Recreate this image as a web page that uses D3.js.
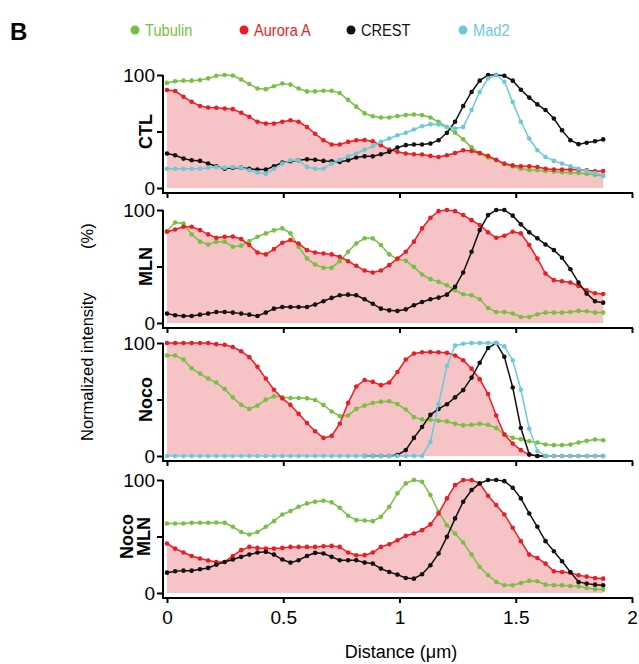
<!DOCTYPE html>
<html><head><meta charset="utf-8">
<script src="https://cdn.jsdelivr.net/npm/d3@7"></script>
<style>body{margin:0;background:#fff;}svg{font-family:"Liberation Sans",Arial,sans-serif;}</style>
</head><body><svg id="c" width="639" height="664"></svg>
<script>
const distance=[0,0.035,0.071,0.106,0.142,0.177,0.212,0.248,0.283,0.319,0.354,0.389,0.425,0.460,0.496,0.531,0.566,0.602,0.637,0.673,0.708,0.743,0.779,0.814,0.850,0.885,0.920,0.956,0.991,1.027,1.062,1.097,1.133,1.168,1.204,1.239,1.274,1.310,1.345,1.381,1.416,1.451,1.487,1.522,1.558,1.593,1.628,1.664,1.699,1.735,1.770,1.805,1.841,1.876];
const seriesNames=["Tubulin","Aurora A","CREST","Mad2"];
const panelLabels=[["CTL"],["MLN"],["Noco"],["Noco","MLN"]];
const xTicks=[0,0.5,1,1.5,2];
const yTicks=[0,50,100];

// CTL
const ctlTubulin=[93,94.5,95,95,95.5,97,99.4,100,99.5,96,92,88,87.5,90,92.5,91.5,88,85.5,85.5,86,86,84,78,72,66,63.5,62.4,62.4,63.6,64.5,65,64.5,62.4,58.6,54,49,43,36,30.5,27,24.6,21,19,17,16,15.7,15,14.5,14,13.6,13.3,12.7,11.8,11];
const ctlAurora=[86.7,85.8,80.8,76.3,72.5,71.3,71,70.4,69.8,66.6,63,58.6,57,57,58.6,60,58.6,54,48,42.3,38.5,38.5,40.8,42.3,42.5,41.4,37.9,34,32,30.5,29.9,29.6,28.4,27.5,29,31,33.4,32.8,31,28.4,25,21.6,20,19.2,19.2,18.6,17,16.3,16.3,16.3,16.3,15.7,14.8,15];
const ctlCrest=[30.5,29,26,24.6,24,21.6,19.2,17,18,18,17,16.3,16.3,19.2,22.5,23.7,24.6,25.4,25,24,23.7,23,24.6,27,28,28,29.9,32,35.8,37.9,38.5,38.5,39.3,42.3,48.8,58.6,72.5,85,95,100,100,99.4,95,87,80,74,69,61.5,51,42.3,38.8,40,41.4,43];
const ctlMad2=[17,17,17,17,17,18,18.6,18,18.6,18,15.7,13.6,12.7,17,21.6,24.6,24.6,18.6,17,17,21.6,25,28,30.5,34,37,40.8,43.8,46.7,48.8,51.8,54.7,56.5,56.2,54,52.7,54,69,85,97,100,94,76,58.6,43.8,33.4,27.5,24,21.6,19.2,17,15,13.3,10.4];
// MLN
const mlnTubulin=[81.4,89,88,78.4,72,69.5,72,72,67.5,68.3,72.5,76.3,79.3,82,83.7,79.3,67.5,57,51.8,48.8,48.8,54.7,63,70.4,74.9,74.9,69,60.7,56.5,55,49.7,42.9,38.8,36.4,33.4,29,25.4,24.6,21,13.3,9.8,9.8,8.3,5.3,5.3,7.7,9.2,9.2,9.2,9.8,10.7,10.4,9.2,9.2];
const mlnAurora=[80.8,82.8,85.2,85.2,82.2,78.4,75.4,76.3,76.6,74.3,69,62.4,60.7,65.4,71,73.4,70.4,64.5,62.4,61.5,60.7,58.6,54.7,50.6,46.4,44.7,46.4,51.2,57,63,72,83.7,93.2,99,100,99,95.5,91,86.7,80.2,75.4,77.2,80.8,79.3,69,57,43.8,37.9,37,35.8,32.8,29,26.3,25.7];
const mlnCrest=[8.3,6.8,6.2,6.2,7.4,8.3,9.8,9.8,9.2,8.3,7.4,6.2,9.2,12.7,14.2,14.2,14.2,14.2,16.3,19.2,22.2,24.6,25.1,24.6,21,17,12.7,11.2,10.7,12.1,15.7,18.6,21,22.5,25.1,32,44.7,63,82.2,95.5,100,100,95,87.3,80.2,74.9,69.5,64.5,57.7,47.6,35.8,26,19.2,18];
// Noco
const nocoTubulin=[88.9,88.9,85.4,77.6,72.9,68.5,65,59.2,51.9,45.2,41.7,44.6,49.9,52.8,51.9,51.3,51.3,51,49.6,45.2,39.4,35.3,35.9,41.7,44.6,46.9,48.1,48.4,46,41.1,34.4,32.4,32.1,31.2,30.6,28.6,27.1,27.7,28.6,27.7,24.8,19,16,14.9,13.1,12,10.2,9.6,9.6,10.2,12,13.4,14.6,14];
const nocoAurora=[100,100,100,100,100,100,99,98.5,96.5,92.7,87.5,79,68.5,58.6,51,45.2,37.3,29.2,21.9,16,17.8,28.6,47,61.5,67.3,65.6,62.7,65,74.3,85.4,90.7,91.8,92.1,91.8,91.3,88.9,84.8,77.3,68,54.8,35.9,19,11,5.2,1,0,0,0,0,0,0,0,0,0];
const nocoCrest=[null,null,null,null,null,null,null,null,null,null,null,null,null,null,null,null,null,null,null,null,null,null,null,null,0,0,0,0,0.9,5.2,16,25.7,36.4,41.7,45.8,51.9,58.3,69.4,82.5,95.6,100,87.8,60.6,24.8,1.5,0,0,null,null,null,null,null,null,null];
const nocoMad2=[0,0,0,0,0,0,0,0,0,0,0,0,0,0,0,0,0,0,0,0,0,0,0,0,0,0,0,0,0,0,0,0,12.5,46,79.6,97.7,99.4,100,100,100,100,97,84.8,58.6,24.2,4.4,0,0,0,0,0,0,0,0];
// Noco MLN
const nocoMlnTubulin=[61.5,61.5,61.5,62.1,62.1,62.1,62.4,62.1,58.6,54,51.8,54,58.6,63.6,69.5,72.5,76.3,79.3,80.8,81.7,80.2,75.4,68.3,64.5,64.2,63.6,67.5,76.3,88.2,97,100,98.5,86.7,71.9,60,52.7,44.7,34,23,15.7,9.8,6.8,6.8,8.9,10.7,10.4,7.4,6.8,6.8,6.2,5.9,4.4,3.3,3];
const nocoMlnAurora=[43.8,39.3,35.8,32.8,30.5,28.7,27.5,27.5,32.8,37.9,40.8,39.9,39.3,39.3,39.9,40.8,40.8,40.8,40.8,41.4,41.7,40.8,35.8,33.4,33.5,35.8,40.8,43.2,46.7,50.6,52.7,55.6,60.7,70.4,83.7,95.5,100,100,97,86.1,77.8,69.5,57.7,45.9,34,31,26,19.2,18.6,18,15.7,14.5,13.3,12.7];
const nocoMlnCrest=[18,19.2,19.8,19.8,21,22.2,25.1,27.5,29.6,32,34,35.8,36.4,34,29.6,26.9,29,32.8,35.5,34.9,32,29,29,29,26.9,26,21.6,18.6,16.3,13.3,12.7,16.6,24.6,34.9,49.7,66,80.8,91.1,97,100,100,99,93.2,83.7,70.4,58.6,45.9,37,28.1,18.6,9.8,8.3,7.4,6.8];

const colors={"Tubulin":"#79bf43","Aurora A":"#ec1c24","CREST":"#111111","Mad2":"#6bcad8"};
const fillColor="#f6c3c6";

const panels=[
  {label:panelLabels[0],data:{"Tubulin":ctlTubulin,"Aurora A":ctlAurora,"CREST":ctlCrest,"Mad2":ctlMad2}},
  {label:panelLabels[1],data:{"Tubulin":mlnTubulin,"Aurora A":mlnAurora,"CREST":mlnCrest}},
  {label:panelLabels[2],data:{"Tubulin":nocoTubulin,"Aurora A":nocoAurora,"CREST":nocoCrest,"Mad2":nocoMad2}},
  {label:panelLabels[3],data:{"Tubulin":nocoMlnTubulin,"Aurora A":nocoMlnAurora,"CREST":nocoMlnCrest}}
];

const svg=d3.select("#c");
const x=d3.scaleLinear().domain([0,2]).range([167,632]);
const tops=[75,210,343,480];
const ph=113;
const yAxisX=163;

svg.append("text").attr("x",10).attr("y",40).attr("font-size",24).attr("font-weight","bold").text("B");

// legend
const legendX=[135,244,351,463];
seriesNames.forEach((s,i)=>{
  svg.append("circle").attr("cx",legendX[i]).attr("cy",30).attr("r",4.5).attr("fill",colors[s]);
  svg.append("text").attr("transform",`translate(${legendX[i]+10},36) scale(0.86,1)`).attr("font-size",17).attr("fill",colors[s]).text(s);
});

panels.forEach((p,pi)=>{
  const top=tops[pi], bottom=top+ph;
  const y=d3.scaleLinear().domain([0,100]).range([bottom,top]);
  const g=svg.append("g");
  const aur=p.data["Aurora A"];
  const pts=distance.map((d,i)=>({x:d,v:aur[i]}));
  g.append("path").datum(pts)
    .attr("fill",fillColor)
    .attr("d",d3.area().x(d=>x(d.x)).y0(y(0)).y1(d=>y(d.v)));
  ["Tubulin","Aurora A","CREST","Mad2"].forEach(s=>{
    if(!p.data[s]) return;
    const vals=distance.map((d,i)=>({x:d,v:p.data[s][i]}));
    const line=d3.line().defined(d=>d.v!=null).x(d=>x(d.x)).y(d=>y(d.v));
    g.append("path").datum(vals).attr("fill","none").attr("stroke",colors[s]).attr("stroke-width",1.5).attr("d",line);
    g.selectAll(null).data(vals.filter(d=>d.v!=null)).enter().append("circle")
      .attr("cx",d=>x(d.x)).attr("cy",d=>y(d.v)).attr("r",2.3).attr("fill",colors[s]);
  });
  const ya=svg.append("g").attr("transform",`translate(${yAxisX},0)`)
    .call(d3.axisLeft(y).tickValues(yTicks).tickFormat(d=>d===50?"":d).tickSize(6).tickSizeOuter(0));
  ya.selectAll("path,line").attr("stroke","#000").attr("stroke-width",2);
  ya.selectAll("text").attr("font-size",19).attr("fill","#000").attr("font-family","Liberation Sans, Arial, sans-serif").attr("x",-8);
  ya.select(".domain").attr("d",`M0,${top}V${bottom+5}`);
  const xa=svg.append("g").attr("transform",`translate(0,${bottom+5})`)
    .call(d3.axisBottom(x).tickValues(xTicks).tickFormat(pi===3?(d=>d3.format("")(d)):(()=>"")).tickSize(5).tickSizeOuter(0));
  xa.selectAll("path,line").attr("stroke","#000").attr("stroke-width",2);
  xa.select(".domain").attr("d",`M${yAxisX-1},0H${x(2)+1}`);
  xa.selectAll("text").attr("font-size",19).attr("fill","#000").attr("font-family","Liberation Sans, Arial, sans-serif").attr("dy","0.95em");
  const cy=(top+bottom)/2;
  const lines=p.label;
  lines.forEach((t,li)=>{
    const bx= lines.length===1 ? 152 : (li===0?133:150);
    svg.append("text").attr("transform",`translate(${bx},${cy}) rotate(-90)`)
      .attr("text-anchor","middle").attr("font-size",18).attr("font-weight","bold").text(t);
  });
});

svg.append("text").attr("transform","translate(93,441) rotate(-90)").attr("text-anchor","start")
  .attr("font-size",16.5).text("Normalized intensity");
svg.append("text").attr("transform","translate(93,249) rotate(-90)").attr("text-anchor","start")
  .attr("font-size",16.5).text("(%)");
svg.append("text").attr("x",401).attr("y",658).attr("text-anchor","middle").attr("font-size",18).text("Distance (μm)");
</script></body></html>
